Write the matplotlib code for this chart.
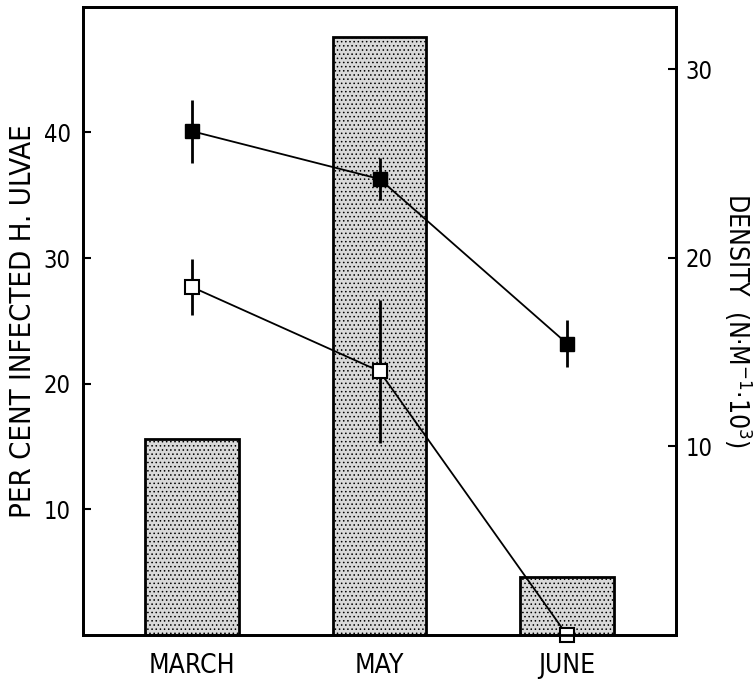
import numpy as np
import matplotlib.pyplot as plt

plt.rcParams['font.family'] = ['DejaVu Sans']
plt.rcParams['font.stretch'] = 'condensed'
plt.rcParams['hatch.linewidth'] = 0.6

months = ['MARCH', 'MAY', 'JUNE']
# density bars (right axis)
density = [10.4, 31.7, 3.1]
# per cent infected, two series with error bars (left axis)
infected_a = [40.1, 36.3, 23.2]
err_a = [2.5, 1.7, 1.9]
infected_b = [27.7, 21.0, 0.0]
err_b = [2.2, 5.7, 0.0]

x = np.arange(len(months))

fig = plt.figure(figsize=(7.56, 6.8), dpi=100)
ax = fig.add_axes([0.110, 0.066, 0.784, 0.924])
ax2 = ax.twinx()

# bars behind the lines
ax2.bar(x, density, width=0.5, facecolor='#d9d9d9', edgecolor='black',
        hatch='....', linewidth=2)
ax2.set_ylim(0, 33.3)
ax2.set_yticks([10, 20, 30])

ax.set_zorder(ax2.get_zorder() + 1)
ax.patch.set_visible(False)

ax.errorbar(x, infected_a, yerr=err_a, fmt='-s', color='black', mfc='black',
            ms=10, lw=1.3, elinewidth=2, capsize=0, clip_on=False)
ax.errorbar(x, infected_b, yerr=err_b, fmt='-s', color='black', mfc='white',
            mec='black', mew=1.5, ms=9.5, lw=1.3, elinewidth=2, capsize=0,
            clip_on=False)

ax.set_xlim(-0.58, 2.58)
ax.set_ylim(0, 50)
ax.set_yticks([10, 20, 30, 40])
ax.set_xticks(x)
ax.set_xticklabels(months)

ax.tick_params(axis='y', direction='in', length=6, width=1.5, pad=9, labelsize=17)
ax2.tick_params(axis='y', direction='in', length=6, width=1.5, pad=7, labelsize=17)
ax.tick_params(axis='x', length=0, pad=13, labelsize=19)

for a in (ax, ax2):
    for s in a.spines.values():
        s.set_linewidth(2)

ax.set_ylabel('PER CENT INFECTED H. ULVAE', fontsize=21, labelpad=5)
ax2.set_ylabel('DENSITY  (N·M$^{-1}$·10$^{3}$)', fontsize=19, rotation=270,
               labelpad=30)

fig.savefig('out.png', dpi=100)
